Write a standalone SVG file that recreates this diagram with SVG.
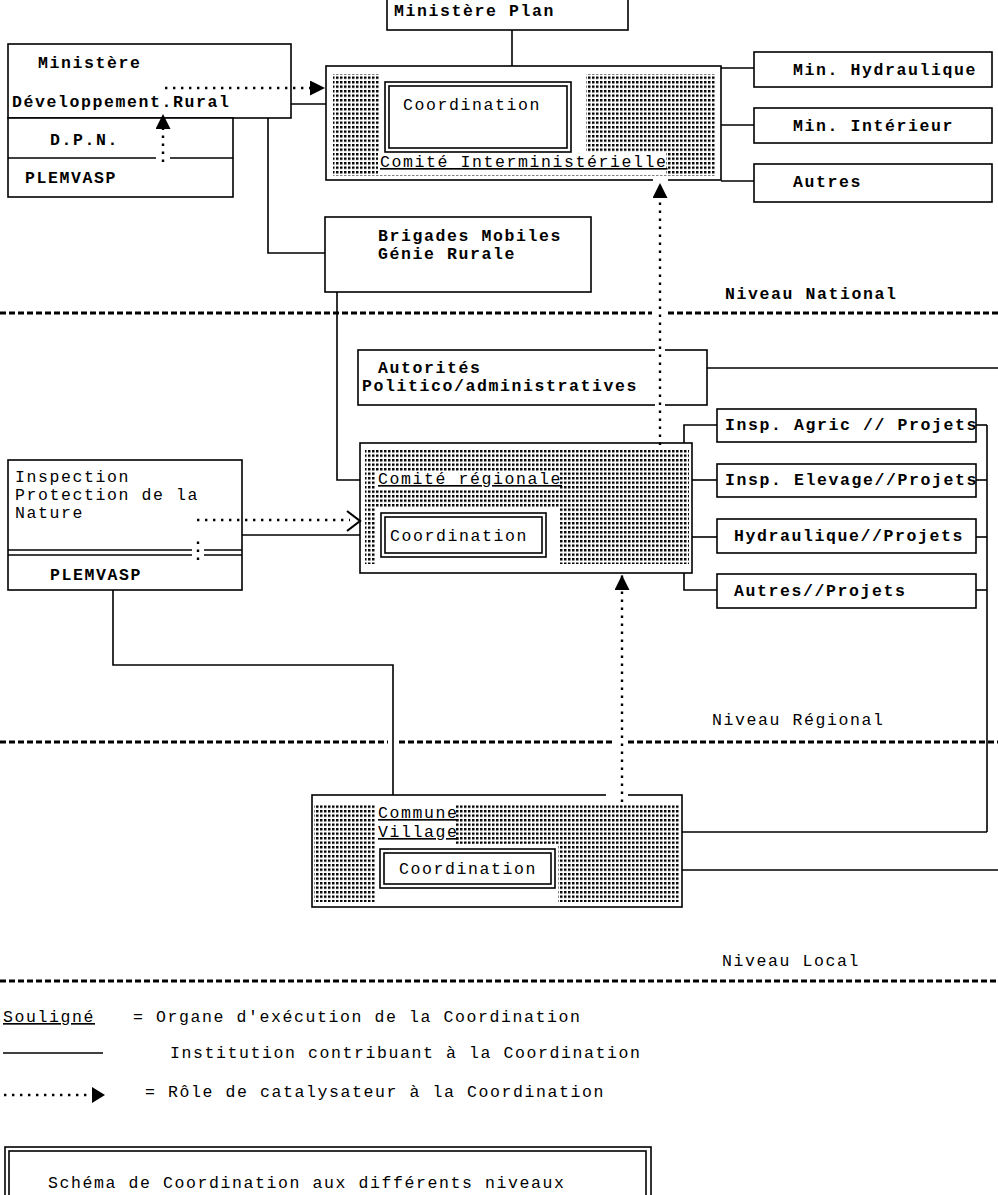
<svg xmlns="http://www.w3.org/2000/svg" width="998" height="1195" viewBox="0 0 998 1195">
<style>
.box{fill:#fff;stroke:#000;stroke-width:1.6}
.nb{fill:none;stroke:#000;stroke-width:1.6}
.ln{fill:none;stroke:#000;stroke-width:1.6}
.dt{fill:none;stroke:#000;stroke-width:2.4;stroke-dasharray:2.4 5.6}
.sep{fill:none;stroke:#000;stroke-width:3;stroke-dasharray:6 3}
.wh{fill:#fff;stroke:none}
.pat{fill:url(#dots);stroke:none}
text{font-family:"Liberation Mono","DejaVu Sans Mono",monospace;font-size:16.5px;letter-spacing:1.6px;fill:#000}
.b{font-weight:bold}
.u{text-decoration:underline}
</style>
<defs>
<pattern id="dots" width="4" height="4.5" patternUnits="userSpaceOnUse"><rect x="0" y="0" width="2.5" height="2.4" fill="#000"/></pattern>
<marker id="tri" viewBox="0 0 10 10" refX="10" refY="5" markerWidth="15" markerHeight="15" markerUnits="userSpaceOnUse" orient="auto"><path d="M0,0 L10,5 L0,10 Z" fill="#000" stroke="none"/></marker>
</defs>
<rect width="998" height="1195" fill="#fff"/>

<!-- separators -->
<g id="separators">
<line class="sep" x1="0" y1="313" x2="652" y2="313"/>
<line class="sep" x1="668" y1="313" x2="998" y2="313"/>
<text x="725" y="299" class="b">Niveau National</text>
<line class="sep" x1="0" y1="742" x2="388" y2="742"/>
<line class="sep" x1="399" y1="742" x2="614" y2="742"/>
<line class="sep" x1="628" y1="742" x2="998" y2="742"/>
<text x="712" y="725">Niveau Régional</text>
<line class="sep" x1="0" y1="981" x2="998" y2="981"/>
<text x="722" y="966">Niveau Local</text>
</g>

<!-- connectors -->
<g id="connectors">
<line class="ln" x1="512" y1="30" x2="512" y2="66"/>
<line class="ln" x1="291" y1="104" x2="326" y2="104"/>
<polyline class="ln" points="268,118 268,253 325,253"/>
<line class="ln" x1="721" y1="68" x2="754" y2="68"/>
<line class="ln" x1="721" y1="125" x2="754" y2="125"/>
<line class="ln" x1="721" y1="181" x2="754" y2="181"/>
<polyline class="ln" points="337,292 337,480 360,480"/>
<line class="ln" x1="707" y1="368" x2="998" y2="368"/>
<polyline class="ln" points="717,425 684,425 684,443"/>
<line class="ln" x1="692" y1="480" x2="717" y2="480"/>
<line class="ln" x1="692" y1="537" x2="717" y2="537"/>
<polyline class="ln" points="684,573 684,590 717,590"/>
<line class="ln" x1="987" y1="425" x2="987" y2="832"/>
<line class="ln" x1="976" y1="425" x2="987" y2="425"/>
<line class="ln" x1="976" y1="480" x2="987" y2="480"/>
<line class="ln" x1="976" y1="537" x2="987" y2="537"/>
<line class="ln" x1="976" y1="590" x2="987" y2="590"/>
<line class="ln" x1="682" y1="832" x2="987" y2="832"/>
<line class="ln" x1="682" y1="870" x2="998" y2="870"/>
<line class="ln" x1="242" y1="535" x2="360" y2="535"/>
<polyline class="ln" points="113,590 113,665 393,665 393,795"/>
</g>

<!-- National level nodes -->
<g id="ministere-plan">
<rect class="box" x="387" y="-2" width="241" height="32"/>
<text x="394" y="16" class="b">Ministère Plan</text>
</g>
<g id="ministere-dev-rural">
<rect class="box" x="8" y="44" width="283" height="74"/>
<text x="38" y="68" class="b">Ministère</text>
<text x="12" y="107" class="b">Développement.Rural</text>
</g>
<g id="dpn-plemvasp">
<rect class="box" x="8" y="118" width="225" height="79"/>
<line class="ln" x1="8" y1="158" x2="156" y2="158"/>
<line class="ln" x1="170" y1="158" x2="233" y2="158"/>
<text x="50" y="145" class="b">D.P.N.</text>
<text x="25" y="183" class="b">PLEMVASP</text>
</g>
<g id="comite-interministerielle">
<rect class="box" x="326" y="66" width="395" height="114"/>
<rect class="pat" x="333" y="74" width="383" height="102"/>
<rect class="wh" x="380" y="74" width="206" height="78"/>
<rect class="wh" x="378" y="152" width="288" height="22"/>
<rect class="nb" x="385" y="82" width="186" height="70"/>
<rect class="nb" x="389" y="86" width="178" height="62"/>
<text x="403" y="110">Coordination</text>
<text x="380" y="167" class="u">Comité Interministérielle</text>
</g>
<g id="min-hydraulique">
<rect class="box" x="754" y="52" width="238" height="35"/>
<text x="793" y="75" class="b">Min. Hydraulique</text>
</g>
<g id="min-interieur">
<rect class="box" x="754" y="108" width="238" height="35"/>
<text x="793" y="131" class="b">Min. Intérieur</text>
</g>
<g id="autres">
<rect class="box" x="754" y="164" width="238" height="38"/>
<text x="793" y="187" class="b">Autres</text>
</g>
<g id="brigades-mobiles">
<rect class="box" x="325" y="217" width="266" height="75"/>
<text x="378" y="241" class="b">Brigades Mobiles</text>
<text x="378" y="259" class="b">Génie Rurale</text>
</g>

<!-- Regional level nodes -->
<g id="autorites">
<rect class="box" x="358" y="350" width="349" height="55"/>
<text x="378" y="373" class="b">Autorités</text>
<text x="362" y="391" class="b">Politico/administratives</text>
</g>
<g id="comite-regionale">
<rect class="box" x="360" y="443" width="332" height="130"/>
<rect class="pat" x="365" y="450" width="324" height="114"/>
<rect class="wh" x="376" y="471" width="184" height="18"/>
<rect class="wh" x="376" y="507" width="183" height="58"/>
<rect class="nb" x="381" y="513" width="165" height="44"/>
<rect class="nb" x="385" y="517" width="157" height="36"/>
<text x="390" y="541">Coordination</text>
<text x="378" y="484" class="u">Comité régionale</text>
</g>
<g id="insp-agric">
<rect class="box" x="717" y="409" width="259" height="33"/>
<text x="725" y="430" class="b">Insp. Agric // Projets</text>
</g>
<g id="insp-elevage">
<rect class="box" x="717" y="464" width="259" height="33"/>
<text x="725" y="485" class="b">Insp. Elevage//Projets</text>
</g>
<g id="hydraulique-projets">
<rect class="box" x="717" y="519" width="259" height="34"/>
<text x="734" y="541" class="b">Hydraulique//Projets</text>
</g>
<g id="autres-projets">
<rect class="box" x="717" y="574" width="259" height="34"/>
<text x="734" y="596" class="b">Autres//Projets</text>
</g>
<g id="inspection-protection">
<rect class="box" x="8" y="460" width="234" height="130"/>
<line class="ln" x1="8" y1="550" x2="192" y2="550"/>
<line class="ln" x1="204" y1="550" x2="242" y2="550"/>
<line class="ln" x1="8" y1="555" x2="192" y2="555"/>
<line class="ln" x1="204" y1="555" x2="242" y2="555"/>
<text x="15" y="482">Inspection</text>
<text x="15" y="500">Protection de la</text>
<text x="15" y="518">Nature</text>
<text x="50" y="580" class="b">PLEMVASP</text>
</g>

<!-- Local level node -->
<g id="commune-village">
<rect class="box" x="312" y="795" width="370" height="112"/>
<rect class="pat" x="314" y="804" width="366" height="98"/>
<rect class="wh" x="376" y="804" width="80" height="40"/>
<rect class="wh" x="376" y="844" width="182" height="58"/>
<rect class="nb" x="380" y="849" width="175" height="39"/>
<rect class="nb" x="384" y="853" width="167" height="31"/>
<text x="399" y="874">Coordination</text>
<text x="378" y="818" class="u">Commune</text>
<text x="378" y="837" class="u">Village</text>
</g>

<!-- catalyst (dotted) connectors -->
<g id="catalyst">
<rect class="wh" x="653" y="176" width="15" height="8"/>
<rect class="wh" x="655" y="347" width="10" height="6"/>
<rect class="wh" x="655" y="402" width="10" height="6"/>
<rect class="wh" x="606" y="792" width="22" height="6"/>
<line class="dt" x1="163" y1="162" x2="163" y2="114" marker-end="url(#tri)"/>
<line class="dt" x1="165" y1="88" x2="325" y2="88" marker-end="url(#tri)"/>
<line class="dt" x1="660" y1="445" x2="660" y2="183" marker-end="url(#tri)"/>
<line class="dt" x1="622" y1="802" x2="622" y2="575" marker-end="url(#tri)"/>
<line class="dt" x1="198" y1="560" x2="198" y2="536"/>
<line class="dt" x1="197" y1="520" x2="350" y2="520"/>
<polyline points="347,511 360,521 347,531" fill="none" stroke="#000" stroke-width="2.2"/>
</g>

<!-- legend -->
<g id="legend">
<text x="3" y="1022" class="u">Souligné</text>
<text x="133" y="1022">= Organe d'exécution de la Coordination</text>
<line class="ln" x1="3" y1="1053" x2="103" y2="1053"/>
<text x="170" y="1058">Institution contribuant à la Coordination</text>
<line class="dt" x1="4" y1="1095" x2="90" y2="1095"/>
<polygon points="92,1087 105,1095 92,1103" fill="#000"/>
<text x="145" y="1097">= Rôle de catalysateur à la Coordination</text>
</g>
<g id="title">
<rect class="nb" x="5" y="1147" width="646" height="60"/>
<rect class="nb" x="9" y="1151" width="637" height="56"/>
<text x="48" y="1188">Schéma de Coordination aux différents niveaux</text>
</g>
</svg>
